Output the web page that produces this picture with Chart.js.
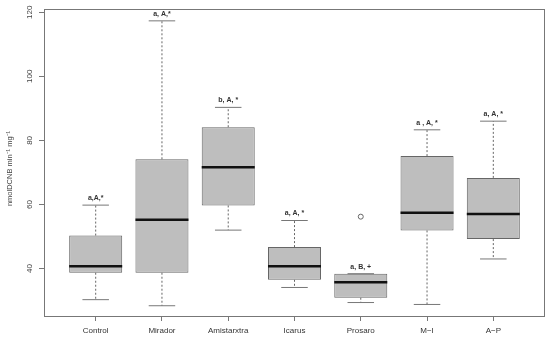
<!DOCTYPE html>
<html>
<head>
<meta charset="utf-8">
<script src="https://cdn.jsdelivr.net/npm/chart.js@4"></script>
<style>
  html, body { margin: 0; padding: 0; background: #fff; }
  #wrap { width: 550px; height: 339px; }
</style>
</head>
<body>
<div id="wrap"><canvas id="myChart" width="550" height="339"></canvas></div>
<script>
// treatments and box plot statistics
const groups = ['Control', 'Mirador', 'Amistarxtra', 'Icarus', 'Prosaro', 'M\u2212I', 'A\u2212P'];
const whiskerLow = [30.3, 28.4, 52.0, 34.1, 29.4, 28.8, 43.0];
const q1 = [38.7, 38.7, 59.7, 36.5, 30.9, 51.9, 49.2];
const median = [40.7, 55.2, 71.6, 40.7, 35.7, 57.4, 57.0];
const q3 = [50.3, 74.1, 84.1, 46.7, 38.4, 75.1, 68.3];
const whiskerHigh = [59.8, 117.3, 90.3, 55.0, 38.4, 83.3, 86.0];
const outliers = [null, null, null, null, 56.2, null, null];
const letters = ['a,A,*', 'a, A,*', 'b, A, *', 'a, A, *', 'a, B, +', 'a , A, *', 'a, A, *'];
const yTicks = [40, 60, 80, 100, 120];

const FONT = '"Liberation Sans", Arial, sans-serif';

const boxParts = {
    id: 'boxParts',
    afterDatasetsDraw(chart) {
        const ctx = chart.ctx;
        const xs = chart.scales.x;
        const ys = chart.scales.y;
        const half = (xs.getPixelForValue(1.4) - xs.getPixelForValue(1)); // half box width
        ctx.save();
        for (let i = 0; i < groups.length; i++) {
            const x = xs.getPixelForValue(i + 1);
            const yLo = ys.getPixelForValue(whiskerLow[i]);
            const yHi = ys.getPixelForValue(whiskerHigh[i]);
            const yQ1 = ys.getPixelForValue(q1[i]);
            const yQ3 = ys.getPixelForValue(q3[i]);
            const yMed = ys.getPixelForValue(median[i]);

            // dotted whiskers
            ctx.strokeStyle = '#666';
            ctx.lineWidth = 1;
            ctx.setLineDash([2, 2]);
            ctx.beginPath();
            ctx.moveTo(x, yQ1); ctx.lineTo(x, yLo);
            if (yHi < yQ3 - 1) { ctx.moveTo(x, yQ3); ctx.lineTo(x, yHi); }
            ctx.stroke();
            ctx.setLineDash([]);

            // caps
            ctx.strokeStyle = '#777';
            ctx.beginPath();
            ctx.moveTo(x - half / 2, yLo); ctx.lineTo(x + half / 2, yLo);
            ctx.moveTo(x - half / 2, yHi); ctx.lineTo(x + half / 2, yHi);
            ctx.stroke();

            // median
            ctx.strokeStyle = '#111';
            ctx.lineWidth = 2.5;
            ctx.beginPath();
            ctx.moveTo(x - half, yMed); ctx.lineTo(x + half, yMed);
            ctx.stroke();

            // significance letters
            ctx.fillStyle = '#333';
            ctx.font = 'bold 7px ' + FONT;
            ctx.textAlign = 'center';
            ctx.textBaseline = 'middle';
            ctx.fillText(letters[i], x, yHi - 7);
        }
        ctx.restore();
    },
    afterDraw(chart) {
        const ctx = chart.ctx;
        const ys = chart.scales.y;
        const a = chart.chartArea;
        const l = Math.round(a.left), r = Math.round(a.right);
        const t = Math.round(a.top), b = Math.round(a.bottom);
        ctx.save();
        // plot frame, drawn as 1px fills
        ctx.fillStyle = '#777';
        ctx.fillRect(l, t, r - l, 1);
        ctx.fillRect(l, b, r - l, 1);
        ctx.fillRect(l, t, 1, b - t + 1);
        ctx.fillRect(r - 1, t, 1, b - t + 1);

        // rotated y tick labels
        ctx.fillStyle = '#444';
        ctx.font = '8px ' + FONT;
        ctx.textAlign = 'center';
        ctx.textBaseline = 'middle';
        yTicks.forEach(v => {
            const y = ys.getPixelForValue(v);
            ctx.save();
            ctx.translate(30, y);
            ctx.rotate(-Math.PI / 2);
            ctx.fillText(String(v), 0, 0);
            ctx.restore();
        });

        // y axis title
        ctx.translate(10, (a.top + a.bottom) / 2 + 6);
        ctx.rotate(-Math.PI / 2);
        ctx.font = '7.5px ' + FONT;
        ctx.fillText('nmolDCNB min\u207B\u00B9 mg\u207B\u00B9', 0, 0);
        ctx.restore();
    }
};

const ctx = document.getElementById('myChart').getContext('2d');
const myChart = new Chart(ctx, {
    type: 'bar',
    data: {
        datasets: [{
            type: 'bar',
            data: groups.map((g, i) => ({ x: i + 1, y: [q1[i], q3[i]] })),
            backgroundColor: '#bebebe',
            borderColor: '#666',
            borderWidth: 1,
            borderSkipped: false,
            barPercentage: 0.8,
            categoryPercentage: 1.0
        }, {
            type: 'scatter',
            data: outliers.map((v, i) => ({ x: i + 1, y: v })),
            pointStyle: 'circle',
            pointRadius: 2.5,
            borderColor: '#666',
            borderWidth: 1,
            backgroundColor: 'rgba(0,0,0,0)'
        }]
    },
    options: {
        responsive: false,
        animation: false,
        layout: { padding: { top: 9, right: 5, left: 0, bottom: 0 } },
        plugins: { legend: { display: false }, tooltip: { enabled: false } },
        scales: {
            x: {
                type: 'linear',
                min: 0.22,
                max: 7.78,
                offset: false,
                afterBuildTicks: scale => { scale.ticks = groups.map((g, i) => ({ value: i + 1 })); },
                afterFit: scale => { scale.height = 23; },
                border: { display: false },
                grid: { offset: false, drawOnChartArea: false, drawTicks: true, tickLength: 5, color: '#777' },
                ticks: {
                    autoSkip: false,
                    maxRotation: 0,
                    padding: 5,
                    color: '#333',
                    font: { size: 8, family: FONT },
                    callback: v => groups[Math.round(v) - 1]
                }
            },
            y: {
                min: 25.2,
                max: 121,
                afterBuildTicks: scale => { scale.ticks = yTicks.map(v => ({ value: v })); },
                afterFit: scale => { scale.width = 44; },
                border: { display: false },
                grid: { drawOnChartArea: false, drawTicks: true, tickLength: 5, color: '#777' },
                ticks: { display: false }
            }
        }
    },
    plugins: [boxParts]
});
</script>
</body>
</html>
